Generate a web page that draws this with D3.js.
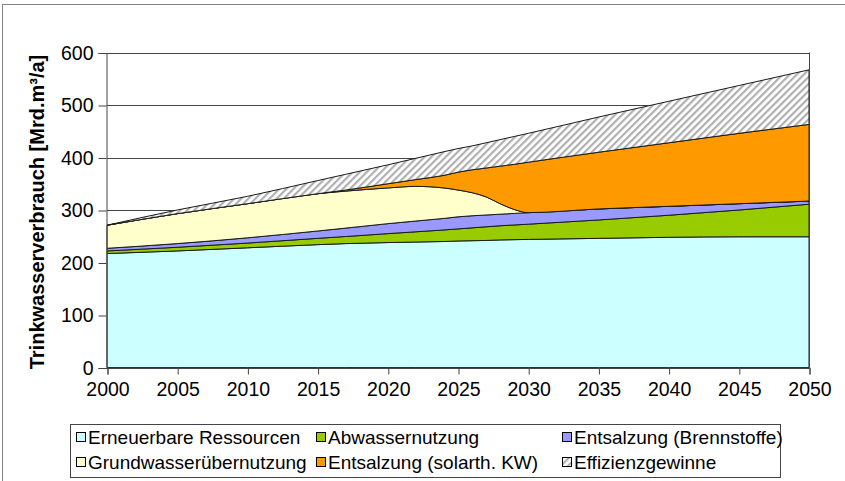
<!DOCTYPE html>
<html><head><meta charset="utf-8">
<script src="https://cdn.jsdelivr.net/npm/d3@7"></script>
<style>body{margin:0;background:#fff}svg{display:block;font-family:"Liberation Sans",Arial,sans-serif}</style>
</head><body><svg id="c" width="845" height="481"></svg>
<script>
const years = [2000,2005,2010,2015,2017,2020,2022,2024,2025,2026,2027,2028,2029,2030,2035,2040,2045,2050];
const erneuerbar  = [217,222,228,234,236,238,239,240,241,241.5,242,243,243.5,244,246,248,249,249];
const abwasser    = [5,7,9,12,13.5,17,19.5,22,23,24.5,26,27,28,29,35,42,51,62];
const brennstoffe = [5,7,10,14,16,19,20.5,22,23,23,22.5,22,22,22,21,17,12,6];
const grundwasser = [44,57,65,71,70.5,68,66,58,51,44,34.5,20,7.5,0,0,0,0,0];
const solar       = [0,0,0,0,2,8,13,24,34,43.5,55,71.5,86,96,108,121,134,146];
const effizienz   = [0,7,14,25,30,36,40.5,45,45,45.5,48,50.5,53,55,67,79,91,104];
const seriesNames = ["Erneuerbare Ressourcen","Abwassernutzung","Entsalzung (Brennstoffe)","Grundwasserübernutzung","Entsalzung (solarth. KW)","Effizienzgewinne"];
const xTicks = [2000,2005,2010,2015,2020,2025,2030,2035,2040,2045,2050];
const yTicks = [0,100,200,300,400,500,600];
const yTitle = "Trinkwasserverbrauch [Mrd.m³/a]";

const keys = ["erneuerbar","abwasser","brennstoffe","grundwasser","solar","effizienz"];
const cols = {erneuerbar:"#CCFFFF",abwasser:"#99CC00",brennstoffe:"#9999FF",grundwasser:"#FFFFCC",solar:"#FF9900",effizienz:"url(#hatch)"};
const src = {erneuerbar,abwasser,brennstoffe,grundwasser,solar,effizienz};
const rows = years.map((yr,i)=>{const r={year:yr}; keys.forEach(k=>r[k]=src[k][i]); return r;});

const svg = d3.select("#c");
const defs = svg.append("defs");
const pat = defs.append("pattern").attr("id","hatch").attr("width",5).attr("height",5)
  .attr("patternUnits","userSpaceOnUse").attr("patternTransform","rotate(45)");
pat.append("rect").attr("width",5).attr("height",5).attr("fill","#fff");
pat.append("rect").attr("width",2.2).attr("height",5).attr("fill","#b0b0b0");

// outer frame
svg.append("rect").attr("x",2.5).attr("y",4.5).attr("width",900).attr("height",600)
  .attr("fill","none").attr("stroke","#808080").attr("stroke-width",1);

const x = d3.scaleLinear().domain([2000,2050]).range([107,809]);
const y = d3.scaleLinear().domain([0,600]).range([367.5,52.5]);

// gridlines
svg.append("g").selectAll("line").data(yTicks).join("line")
  .attr("x1",x(2000)).attr("x2",x(2050)).attr("y1",d=>Math.round(y(d))+0.5).attr("y2",d=>Math.round(y(d))+0.5)
  .attr("stroke","#444").attr("stroke-width",1);

const stack = d3.stack().keys(keys)(rows);
const area = d3.area().x(d=>x(d.data.year)).y0(d=>y(d[0])).y1(d=>y(d[1])).curve(d3.curveMonotoneX);
svg.append("g").selectAll("path").data(stack).join("path")
  .attr("d",area).attr("fill",d=>cols[d.key]).attr("stroke","#1a1a1a").attr("stroke-width",1).attr("stroke-linejoin","round");

// right border
svg.append("line").attr("x1",809.5).attr("x2",809.5).attr("y1",y(600)).attr("y2",y(0)).attr("stroke","#444");

// axes
const yAxis = d3.axisLeft(y).tickValues(yTicks).tickSize(8).tickPadding(5).tickFormat(d3.format("d"));
const gy = svg.append("g").attr("transform","translate(106.5,0.5)").call(yAxis);
gy.select(".domain").attr("stroke","#444");
gy.selectAll(".tick line").attr("stroke","#444");
gy.selectAll("text").attr("font-size",19.5).attr("fill","#000").attr("font-family","Liberation Sans, Arial, sans-serif");

const xAxis = d3.axisBottom(x).tickValues(xTicks).tickSize(7).tickPadding(8).tickFormat(d3.format("d"));
const gx = svg.append("g").attr("transform","translate(0.5,367.5)").call(xAxis);
gx.select(".domain").attr("stroke","#444");
gx.selectAll(".tick line").attr("stroke","#444");
gx.selectAll("text").attr("font-size",19.5).attr("fill","#000").attr("font-family","Liberation Sans, Arial, sans-serif");

svg.append("text").attr("transform","translate(44,212) rotate(-90)").attr("text-anchor","middle")
  .attr("font-size",20).attr("font-weight","bold").attr("fill","#000").text(yTitle);

// legend
svg.append("rect").attr("x",70.5).attr("y",424.5).attr("width",710).attr("height",53)
  .attr("fill","#fff").attr("stroke","#444");
const legendKeys = ["erneuerbar","abwasser","brennstoffe","grundwasser","solar","effizienz"];
const colX = [76,316,562], rowY = [437,462];
legendKeys.forEach((k,i)=>{
  const cx = colX[i%3], cy = rowY[Math.floor(i/3)];
  svg.append("rect").attr("x",cx+0.5).attr("y",cy-4.5).attr("width",9).attr("height",9)
    .attr("fill",cols[k]).attr("stroke","#000").attr("stroke-width",1);
  svg.append("text").attr("x",cx+12).attr("y",cy+7).attr("font-size",19).attr("fill","#000").text(seriesNames[i]);
});
</script></body></html>
